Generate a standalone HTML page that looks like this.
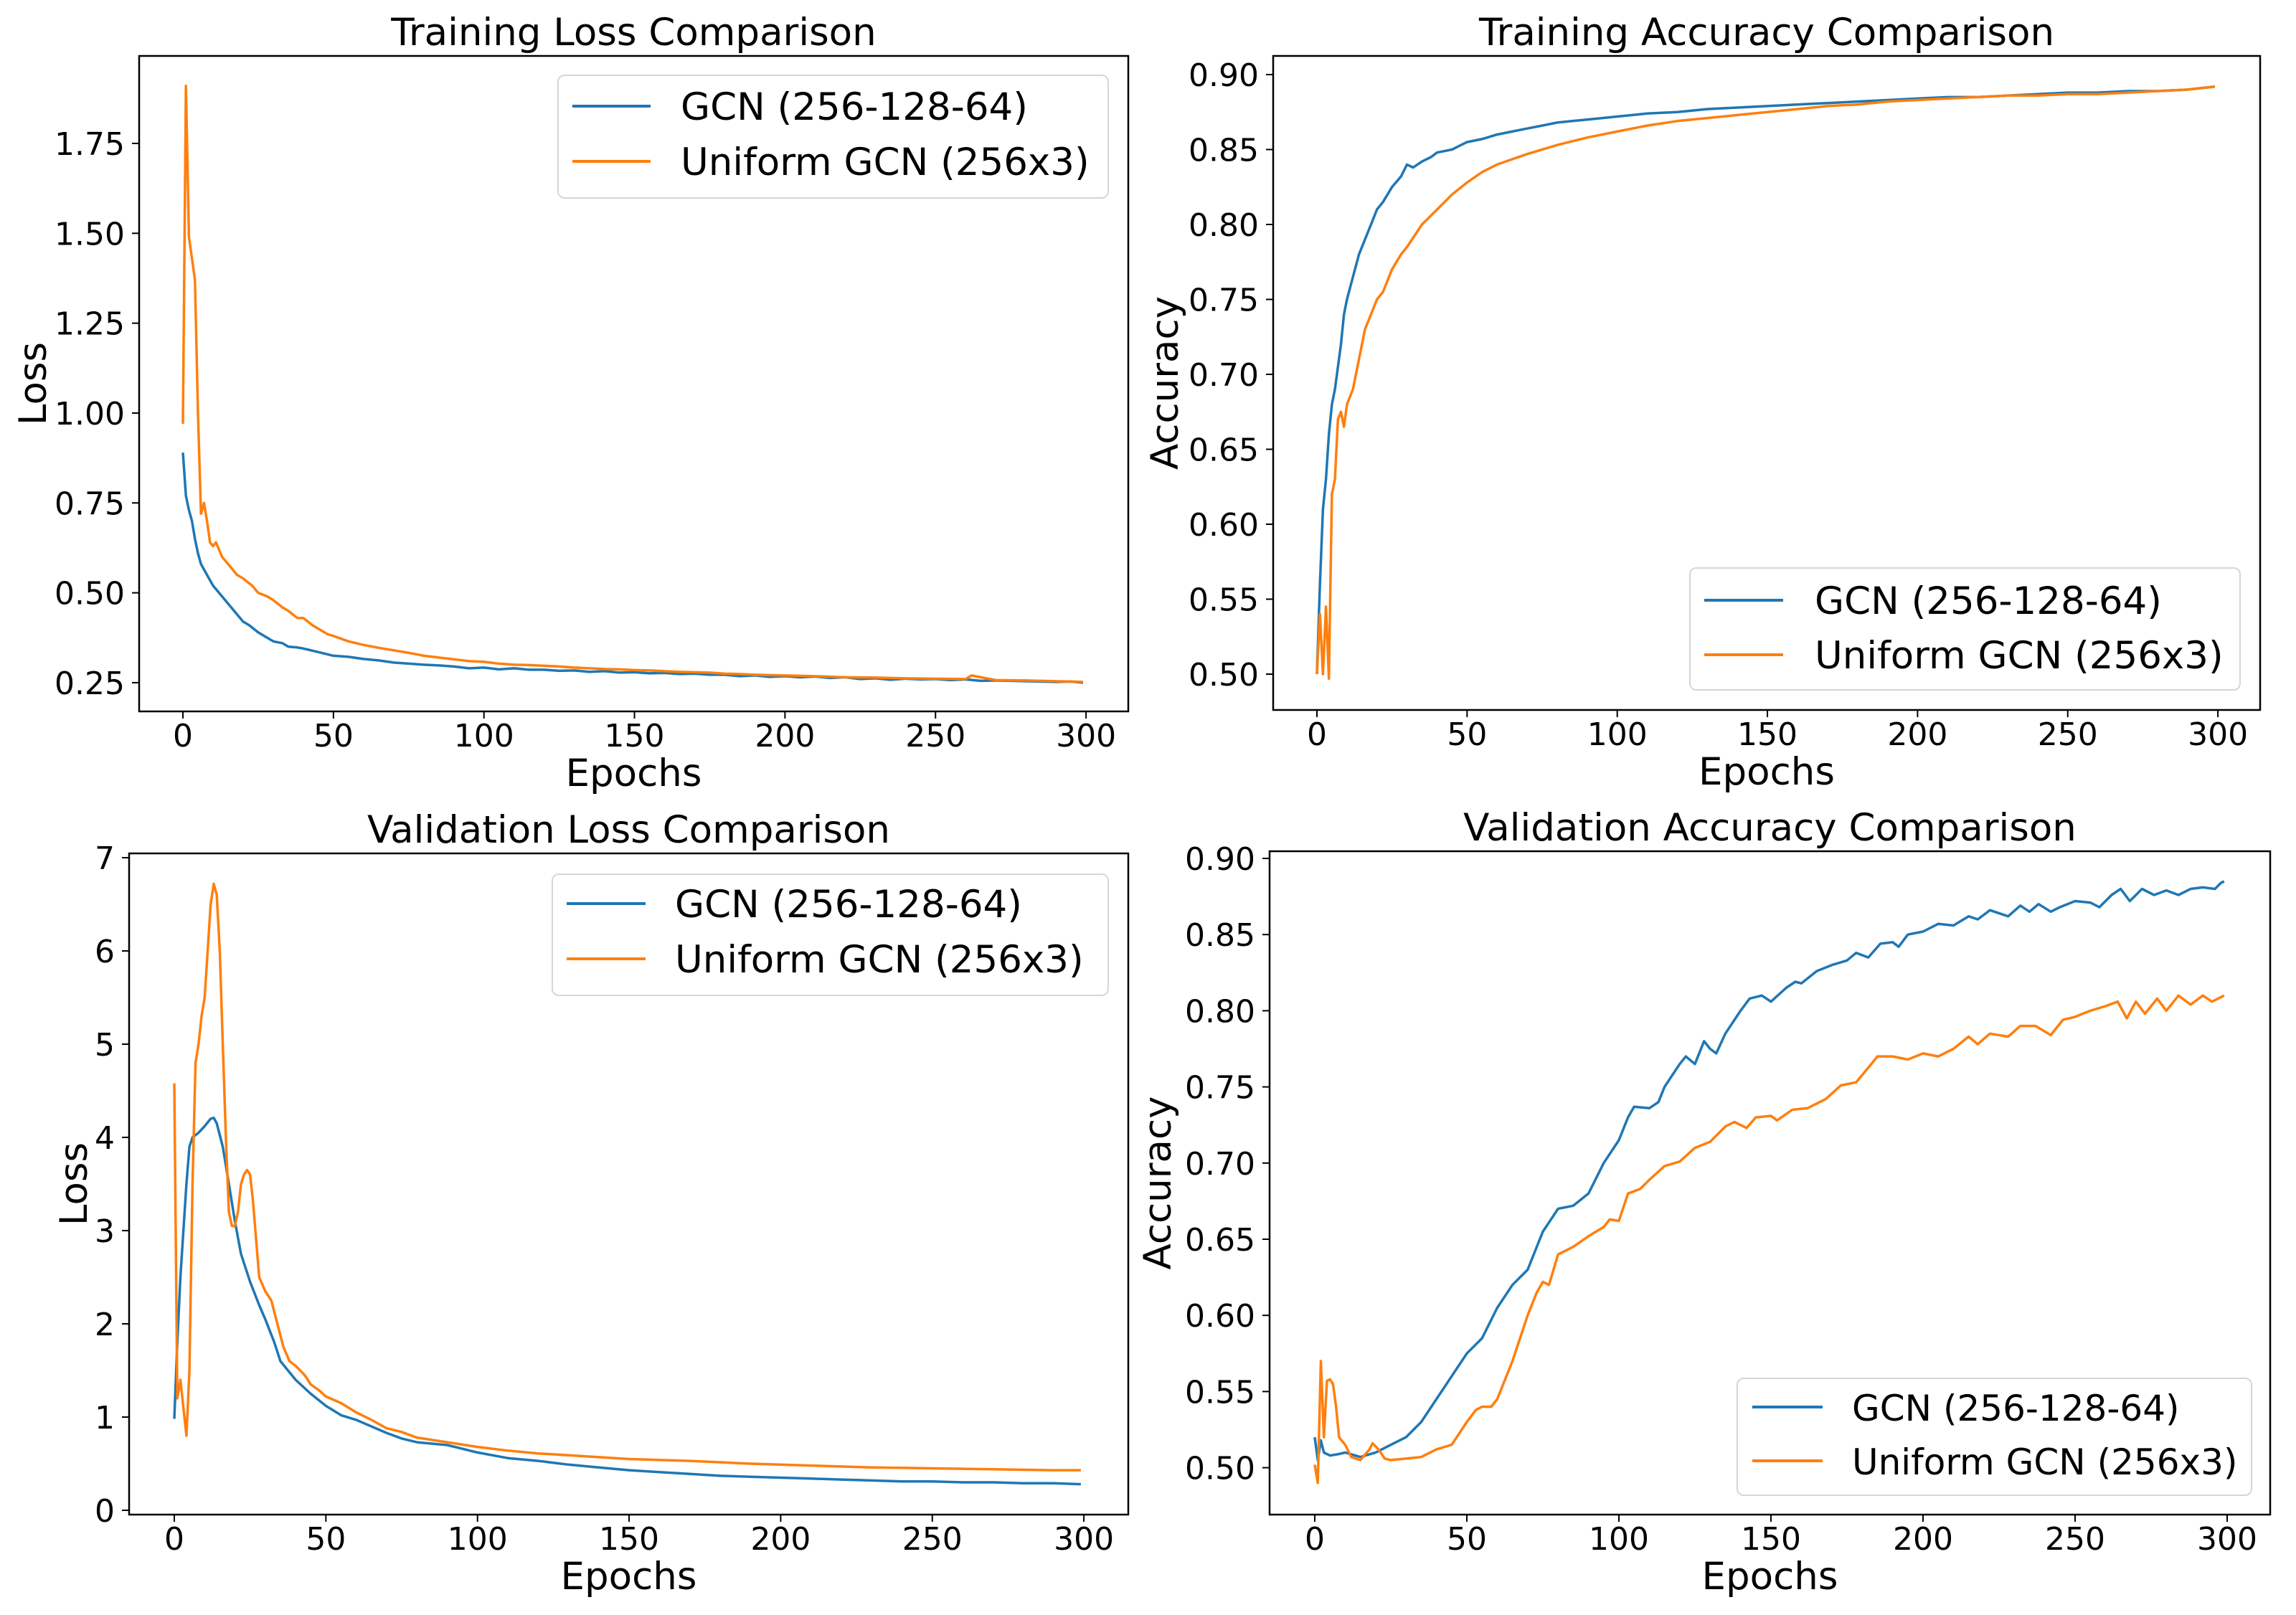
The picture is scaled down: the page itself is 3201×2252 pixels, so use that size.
<!DOCTYPE html>
<html><head><meta charset="utf-8"><style>
html,body{margin:0;padding:0;background:#fff;}
svg{display:block;font-family:"DejaVu Sans","Liberation Sans",sans-serif;}
</style></head><body>
<svg id="fig" width="3201" height="2252" viewBox="0 0 3201 2252" xmlns="http://www.w3.org/2000/svg"></svg>
<script>
const xTickLabels = [0, 50, 100, 150, 200, 250, 300];
const tlYTicks = [0.25, 0.50, 0.75, 1.00, 1.25, 1.50, 1.75];
const trYTicks = [0.50, 0.55, 0.60, 0.65, 0.70, 0.75, 0.80, 0.85, 0.90];
const blYTicks = [0, 1, 2, 3, 4, 5, 6, 7];
const brYTicks = [0.50, 0.55, 0.60, 0.65, 0.70, 0.75, 0.80, 0.85, 0.90];
const seriesNames = ["GCN (256-128-64)", "Uniform GCN (256x3)"];

const tlBlueEp = [0,1,2,3,4,5,6,8,10,12,15,18,20,22,25,28,30,33,35,38,40,45,50,55,60,65,70,75,80,85,90,95,100,105,110,115,120,125,130,135,140,145,150,155,160,165,170,175,180,185,190,195,200,205,210,215,220,225,230,235,240,245,250,255,260,265,270,275,280,285,290,295,299];
const tlBlue = [0.89,0.77,0.73,0.70,0.65,0.61,0.58,0.55,0.52,0.50,0.47,0.44,0.42,0.41,0.39,0.375,0.365,0.36,0.35,0.348,0.345,0.335,0.325,0.322,0.316,0.312,0.306,0.303,0.30,0.298,0.295,0.29,0.292,0.287,0.29,0.286,0.286,0.283,0.284,0.28,0.282,0.278,0.279,0.276,0.277,0.274,0.275,0.272,0.272,0.268,0.27,0.266,0.268,0.265,0.267,0.263,0.265,0.26,0.262,0.258,0.261,0.259,0.26,0.257,0.259,0.255,0.256,0.255,0.254,0.253,0.252,0.253,0.25];
const tlOrangeEp = [0,1,2,3,4,5,6,7,8,9,10,11,13,15,18,20,23,25,28,30,33,35,38,40,43,45,48,50,55,60,65,70,75,80,85,90,95,100,105,110,115,120,125,130,135,140,145,150,155,160,165,170,175,180,185,190,195,200,210,220,230,240,250,260,262,270,280,290,299];
const tlOrange = [0.97,1.91,1.49,1.43,1.37,1.00,0.72,0.75,0.70,0.64,0.63,0.64,0.60,0.58,0.55,0.54,0.52,0.50,0.49,0.48,0.46,0.45,0.43,0.43,0.41,0.40,0.385,0.38,0.365,0.355,0.347,0.34,0.333,0.325,0.32,0.315,0.31,0.308,0.303,0.30,0.299,0.297,0.295,0.292,0.29,0.288,0.287,0.285,0.284,0.282,0.28,0.279,0.278,0.275,0.274,0.272,0.271,0.27,0.268,0.265,0.264,0.262,0.261,0.26,0.27,0.257,0.256,0.254,0.252];

const trBlueEp = [0,1,2,3,4,5,6,7,8,9,10,12,14,16,18,20,22,25,28,30,32,35,38,40,45,50,55,60,65,70,75,80,85,90,95,100,110,120,130,140,150,160,170,180,190,200,210,220,230,240,250,260,270,280,290,299];
const trBlue = [0.50,0.56,0.61,0.63,0.66,0.68,0.69,0.705,0.72,0.74,0.75,0.765,0.78,0.79,0.80,0.81,0.815,0.825,0.832,0.84,0.838,0.842,0.845,0.848,0.85,0.855,0.857,0.86,0.862,0.864,0.866,0.868,0.869,0.87,0.871,0.872,0.874,0.875,0.877,0.878,0.879,0.88,0.881,0.882,0.883,0.884,0.885,0.885,0.886,0.887,0.888,0.888,0.889,0.889,0.890,0.892];
const trOrangeEp = [0,1,2,3,4,5,6,7,8,9,10,12,14,16,18,20,22,25,28,30,35,40,45,50,55,60,70,80,90,100,110,120,130,140,150,160,170,180,190,200,210,220,230,240,250,260,270,280,290,299];
const trOrange = [0.50,0.54,0.50,0.545,0.497,0.62,0.63,0.67,0.675,0.665,0.68,0.69,0.71,0.73,0.74,0.75,0.755,0.77,0.78,0.785,0.80,0.81,0.82,0.828,0.835,0.84,0.847,0.853,0.858,0.862,0.866,0.869,0.871,0.873,0.875,0.877,0.879,0.88,0.882,0.883,0.884,0.885,0.886,0.886,0.887,0.887,0.888,0.889,0.890,0.892];

const blBlueEp = [0,1,2,3,4,5,6,8,10,12,13,14,16,18,20,22,25,28,30,33,35,40,45,50,55,60,65,70,75,80,90,100,110,120,130,140,150,160,170,180,190,200,210,220,230,240,250,260,270,280,290,299];
const blBlue = [0.98,1.8,2.5,3.0,3.5,3.9,4.0,4.05,4.12,4.2,4.21,4.15,3.9,3.5,3.1,2.75,2.45,2.2,2.05,1.8,1.6,1.4,1.25,1.12,1.02,0.97,0.9,0.83,0.77,0.73,0.70,0.62,0.56,0.53,0.49,0.46,0.43,0.41,0.39,0.37,0.36,0.35,0.34,0.33,0.32,0.31,0.31,0.30,0.30,0.29,0.29,0.28];
const blOrangeEp = [0,1,2,3,4,5,6,7,8,9,10,11,12,13,14,15,16,17,18,19,20,21,22,23,24,25,26,27,28,30,32,34,36,38,40,43,45,48,50,55,60,65,70,75,80,90,100,110,120,130,140,150,170,190,210,230,250,270,290,299];
const blOrange = [4.58,1.2,1.4,1.1,0.8,1.5,3.5,4.8,5.0,5.3,5.5,6.0,6.5,6.72,6.6,6.0,5.0,4.0,3.2,3.05,3.05,3.2,3.5,3.6,3.65,3.6,3.3,2.9,2.5,2.35,2.25,2.0,1.75,1.6,1.55,1.45,1.35,1.28,1.22,1.15,1.05,0.97,0.88,0.84,0.78,0.73,0.68,0.64,0.61,0.59,0.57,0.55,0.53,0.50,0.48,0.46,0.45,0.44,0.43,0.43];

const brBlueEp = [0,1,2,3,5,8,10,15,20,25,30,35,40,45,50,55,60,65,70,75,80,85,90,95,100,103,105,110,113,115,120,122,125,128,130,132,135,140,143,147,150,155,158,160,165,170,175,178,182,186,190,192,195,200,205,210,215,218,222,228,232,235,238,242,245,250,255,258,262,265,268,272,276,280,284,288,292,296,298,299];
const brBlue = [0.52,0.505,0.518,0.51,0.508,0.509,0.51,0.507,0.51,0.515,0.52,0.53,0.545,0.56,0.575,0.585,0.605,0.62,0.63,0.655,0.67,0.672,0.68,0.70,0.715,0.73,0.737,0.736,0.74,0.75,0.765,0.77,0.765,0.78,0.775,0.772,0.785,0.80,0.808,0.81,0.806,0.815,0.819,0.818,0.826,0.83,0.833,0.838,0.835,0.844,0.845,0.842,0.85,0.852,0.857,0.856,0.862,0.86,0.866,0.862,0.869,0.865,0.87,0.865,0.868,0.872,0.871,0.868,0.876,0.88,0.872,0.88,0.876,0.879,0.876,0.88,0.881,0.88,0.884,0.885];
const brOrangeEp = [0,1,2,3,4,5,6,7,8,10,12,15,18,19,21,23,25,30,35,40,45,50,53,55,58,60,65,70,73,75,77,80,83,85,90,95,97,100,103,107,110,115,120,125,130,135,138,142,145,150,152,157,162,168,173,178,183,185,190,195,200,205,210,215,218,222,228,232,237,242,246,250,255,260,264,267,270,273,277,280,284,288,292,295,299];
const brOrange = [0.502,0.49,0.57,0.52,0.557,0.558,0.555,0.54,0.52,0.515,0.507,0.505,0.512,0.516,0.512,0.506,0.505,0.506,0.507,0.512,0.515,0.53,0.538,0.54,0.54,0.545,0.57,0.60,0.615,0.622,0.62,0.64,0.643,0.645,0.652,0.658,0.663,0.662,0.68,0.683,0.689,0.698,0.701,0.71,0.714,0.724,0.727,0.723,0.73,0.731,0.728,0.735,0.736,0.742,0.751,0.753,0.765,0.77,0.77,0.768,0.772,0.77,0.775,0.783,0.778,0.785,0.783,0.79,0.79,0.784,0.794,0.796,0.80,0.803,0.806,0.795,0.806,0.798,0.808,0.80,0.81,0.804,0.81,0.806,0.81];

const NS = "http://www.w3.org/2000/svg";
const svg = document.getElementById("fig");
function mk(tag, attrs, parent) {
  const e = document.createElementNS(NS, tag);
  for (const k in attrs) e.setAttribute(k, attrs[k]);
  (parent || svg).appendChild(e);
  return e;
}
function txt(parent, s, x, y, size, anchor, name, rot) {
  const t = mk("text", {x: x, y: y, "font-size": size, "text-anchor": anchor || "middle", fill: "#000"}, parent);
  if (rot) t.setAttribute("transform", "rotate(-90 " + x + " " + y + ")");
  t.textContent = s;
  
  
  return t;
}

const panels = [
  {id: "training-loss", title: "Training Loss Comparison", ylabel: "Loss", L: 194, R: 1573, T: 78, B: 992, x0: 255, xs: 4.197,
   y: v => 200 + (1.75 - v) * 501.3, yt: tlYTicks, fmt: v => v.toFixed(2),
   s: [[tlBlueEp, tlBlue], [tlOrangeEp, tlOrange]], ylx: 64,
   leg: {x: 778, y: 105, w: 767, h: 171, l1: 798, l2: 907, tx: 949, ys: [148, 225], fs: 53}},
  {id: "training-accuracy", title: "Training Accuracy Comparison", ylabel: "Accuracy", L: 1775, R: 3151, T: 78, B: 990, x0: 1836, xs: 4.187,
   y: v => 104 + (0.90 - v) * 2090, yt: trYTicks, fmt: v => v.toFixed(2),
   s: [[trBlueEp, trBlue], [trOrangeEp, trOrange]], ylx: 1642,
   leg: {x: 2356, y: 792, w: 767, h: 170, l1: 2376, l2: 2486, tx: 2530, ys: [837, 913], fs: 53}},
  {id: "validation-loss", title: "Validation Loss Comparison", ylabel: "Loss", L: 180, R: 1573, T: 1190, B: 2112, x0: 243, xs: 4.227,
   y: v => 2106 - v * 130, yt: blYTicks, fmt: v => String(v),
   s: [[blBlueEp, blBlue], [blOrangeEp, blOrange]], ylx: 121,
   leg: {x: 770, y: 1219, w: 775, h: 169, l1: 790, l2: 900, tx: 941, ys: [1260, 1337], fs: 53}},
  {id: "validation-accuracy", title: "Validation Accuracy Comparison", ylabel: "Accuracy", L: 1770, R: 3165, T: 1187, B: 2112, x0: 1833, xs: 4.24,
   y: v => 1197 + (0.90 - v) * 2124, yt: brYTicks, fmt: v => v.toFixed(2),
   s: [[brBlueEp, brBlue], [brOrangeEp, brOrange]], ylx: 1632,
   leg: {x: 2422, y: 1922, w: 717, h: 163, l1: 2443, l2: 2541, tx: 2582, ys: [1962, 2037], fs: 50}}
];
const colors = ["#1f77b4", "#ff7f0e"];

panels.forEach(p => {
  const g = mk("g", {});
  
  
  const xf = e => p.x0 + e * p.xs;
  const cid = "clip-" + p.id;
  const cp = mk("clipPath", {id: cid}, g);
  mk("rect", {x: p.L, y: p.T, width: p.R - p.L, height: p.B - p.T}, cp);
  p.s.forEach((sr, i) => {
    const pts = sr[0].map((e, k) => xf(e).toFixed(1) + "," + p.y(sr[1][k]).toFixed(1)).join(" ");
    const pl = mk("polyline", {points: pts, fill: "none", stroke: colors[i], "stroke-width": 3.5, "stroke-linejoin": "round", "clip-path": "url(#" + cid + ")"}, g);
    
    
  });
  const fr = mk("rect", {x: p.L, y: p.T, width: p.R - p.L, height: p.B - p.T, fill: "none", stroke: "#000", "stroke-width": 2.5}, g);
  
  
  xTickLabels.forEach(v => {
    const x = xf(v);
    mk("line", {x1: x, x2: x, y1: p.B, y2: p.B + 10, stroke: "#000", "stroke-width": 2}, g);
    txt(g, String(v), x, p.B + 49, 44, "middle", p.id + '-x-tick-label');
  });
  p.yt.forEach(v => {
    const y = p.y(v);
    mk("line", {x1: p.L - 10, x2: p.L, y1: y, y2: y, stroke: "#000", "stroke-width": 2}, g);
    txt(g, p.fmt(v), p.L - 20, y + 16, 44, "end", p.id + '-y-tick-label');
  });
  txt(g, p.title, (p.L + p.R) / 2, p.T - 15, 53, "middle", p.id + '-title');
  txt(g, "Epochs", (p.L + p.R) / 2, p.B + 104, 53, "middle", p.id + '-x-axis-title');
  txt(g, p.ylabel, p.ylx, (p.T + p.B) / 2, 53, "middle", p.id + '-y-axis-title', true);
  const lg = mk("g", {}, g);
  
  
  mk("rect", {x: p.leg.x, y: p.leg.y, width: p.leg.w, height: p.leg.h, rx: 9, fill: "#fff", "fill-opacity": 0.8, stroke: "#d6d6d6", "stroke-width": 2}, lg);
  seriesNames.forEach((nm, i) => {
    const ent = mk("g", {}, lg);
    
    
    mk("line", {x1: p.leg.l1, x2: p.leg.l2, y1: p.leg.ys[i], y2: p.leg.ys[i], stroke: colors[i], "stroke-width": 4}, ent);
    txt(ent, nm, p.leg.tx, p.leg.ys[i] + 19, p.leg.fs, "start", 'legend-label');
  });
});
</script>
</body></html>
